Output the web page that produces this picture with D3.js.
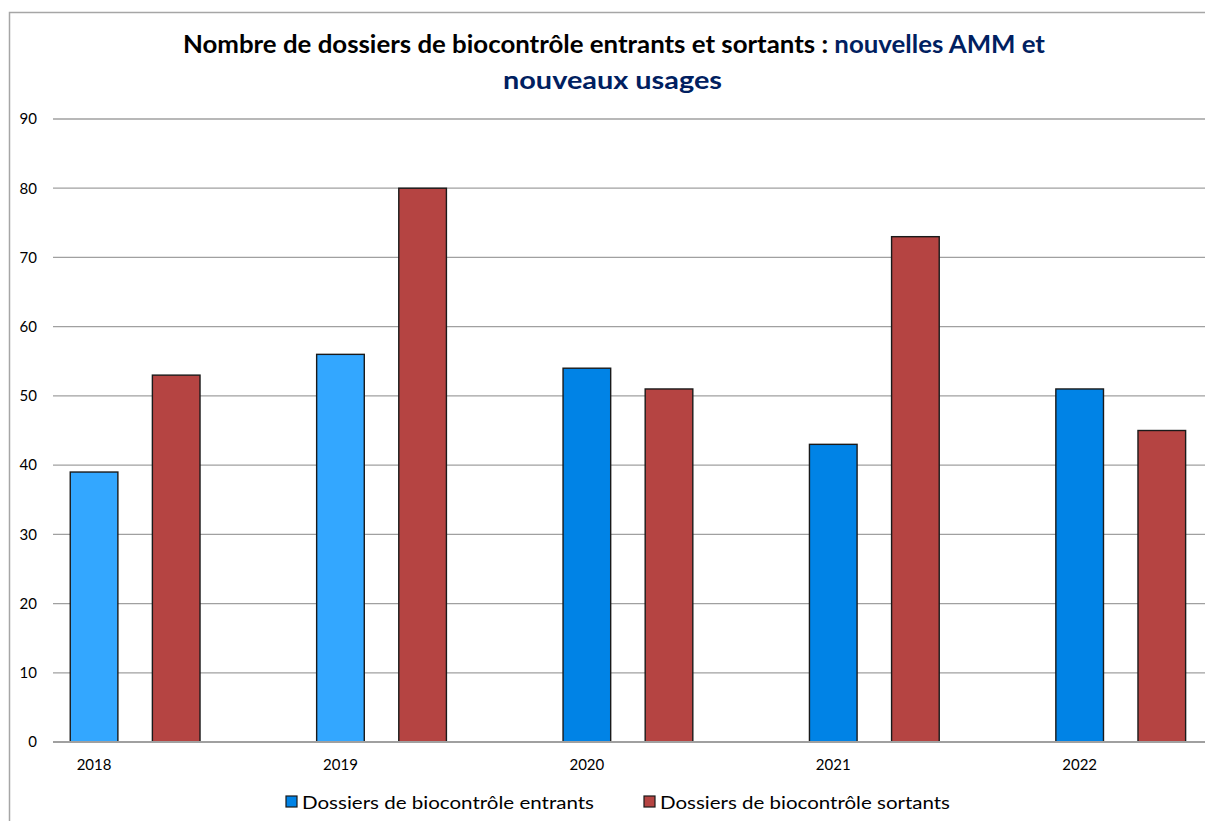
<!DOCTYPE html>
<html>
<head>
<meta charset="utf-8">
<script src="https://cdn.jsdelivr.net/npm/d3@7"></script>
<style>
  body { margin: 0; background: #fff; }
  svg text { font-family: Lato, "Open Sans", sans-serif; }
</style>
</head>
<body>
<div id="chart"></div>
<script>
var years = ["2018", "2019", "2020", "2021", "2022"];
var entrants = [39, 56, 54, 43, 51];
var sortants = [53, 80, 51, 73, 45];
var yTicks = [0, 10, 20, 30, 40, 50, 60, 70, 80, 90];
var seriesNames = ["Dossiers de biocontrôle entrants", "Dossiers de biocontrôle sortants"];

// couleurs : les deux premieres annees sont dans un bleu plus clair
var blueLight = "#33a7ff", blue = "#0083e6", red = "#b54442";
function entrantColor(year){ return (+year < 2020) ? blueLight : blue; }

var svg = d3.select("#chart").append("svg")
  .attr("width", 1205)
  .attr("height", 821);

// cadre du graphique (coupé à droite et en bas)
svg.append("rect")
  .attr("x", 9.5).attr("y", 12.5)
  .attr("width", 1300).attr("height", 900)
  .attr("fill", "#fff")
  .attr("stroke", "#a6a6a6")
  .attr("stroke-width", 1.5);

// titre
var t1 = svg.append("text").attr("y", 53).attr("font-size", 24).attr("font-weight", "bold");
t1.append("tspan").attr("fill", "#000").text("Nombre de dossiers de biocontrôle entrants et sortants : ");
t1.append("tspan").attr("fill", "#002060").text("nouvelles AMM et");
t1.attr("x", 183).attr("textLength", 862).attr("lengthAdjust", "spacingAndGlyphs");

svg.append("text")
  .attr("x", 503).attr("y", 89)
  .attr("font-size", 24).attr("font-weight", "bold")
  .attr("fill", "#002060")
  .attr("textLength", 219).attr("lengthAdjust", "spacingAndGlyphs")
  .text("nouveaux usages");

var left = 53, step = 246.4;
var x0 = d3.scaleBand().domain(years).range([left, left + years.length * step]);
var x1 = d3.scaleBand().domain(["entrants", "sortants", "vide"])
  .range([0, x0.bandwidth()])
  .paddingInner(0.42).paddingOuter(0.21);
var y = d3.scaleLinear().domain([0, 90]).range([742, 119]);

// grille
svg.append("g").selectAll("line")
  .data(yTicks.filter(function(d){ return d > 0; }))
  .enter().append("line")
  .attr("x1", left).attr("x2", 1205)
  .attr("y1", function(d){ return y(d); })
  .attr("y2", function(d){ return y(d); })
  .attr("stroke", "#a0a0a0")
  .attr("stroke-width", 1.3);

// axe Y
var yAxis = svg.append("g")
  .attr("transform", "translate(" + left + ",0)")
  .call(d3.axisLeft(y).tickValues(yTicks).tickSize(0).tickPadding(16));
yAxis.select(".domain").remove();
yAxis.selectAll("text").attr("font-size", 15).attr("fill", "#000")
  .style("font-family", "Lato, 'Open Sans', sans-serif");

// barres
var rows = years.map(function(yr, i){ return {year: yr, entrants: entrants[i], sortants: sortants[i]}; });
var g = svg.selectAll("g.year")
  .data(rows)
  .enter().append("g")
  .attr("class", "year")
  .attr("transform", function(d){ return "translate(" + x0(d.year) + ",0)"; });

g.append("rect")
  .attr("x", x1("entrants")).attr("width", x1.bandwidth())
  .attr("y", function(d){ return y(d.entrants); })
  .attr("height", function(d){ return y(0) - y(d.entrants); })
  .attr("fill", function(d){ return entrantColor(d.year); })
  .attr("stroke", "#1a1a1a").attr("stroke-width", 1.4);

g.append("rect")
  .attr("x", x1("sortants")).attr("width", x1.bandwidth())
  .attr("y", function(d){ return y(d.sortants); })
  .attr("height", function(d){ return y(0) - y(d.sortants); })
  .attr("fill", red)
  .attr("stroke", "#1a1a1a").attr("stroke-width", 1.4);

// ligne du zéro
svg.append("line")
  .attr("x1", left).attr("x2", 1205)
  .attr("y1", y(0)).attr("y2", y(0))
  .attr("stroke", "#a0a0a0").attr("stroke-width", 2);

// axe X : étiquettes sous la première barre de chaque année
var shift = x1("entrants") + x1.bandwidth() / 2 - x0.bandwidth() / 2;
var xAxis = svg.append("g")
  .attr("transform", "translate(" + shift + "," + y(0) + ")")
  .call(d3.axisBottom(x0).tickSize(0).tickPadding(17));
xAxis.select(".domain").remove();
xAxis.selectAll("text").attr("font-size", 15).attr("fill", "#000")
  .style("font-family", "Lato, 'Open Sans', sans-serif");

// légende
var legendX = [286, 644];
var legendColors = [blue, red];
var lg = svg.selectAll("g.legend")
  .data(seriesNames)
  .enter().append("g")
  .attr("class", "legend")
  .attr("transform", function(d, i){ return "translate(" + legendX[i] + ",802)"; });

lg.append("rect")
  .attr("x", 0).attr("y", -6)
  .attr("width", 11).attr("height", 11)
  .attr("fill", function(d, i){ return legendColors[i]; })
  .attr("stroke", "#1a1a1a").attr("stroke-width", 1.2);

lg.append("text")
  .attr("x", 16).attr("y", 6.5)
  .attr("font-size", 18).attr("fill", "#000")
  .attr("textLength", function(d, i){ return i === 0 ? 292 : 290; })
  .attr("lengthAdjust", "spacingAndGlyphs")
  .text(function(d){ return d; });
</script>
</body>
</html>
